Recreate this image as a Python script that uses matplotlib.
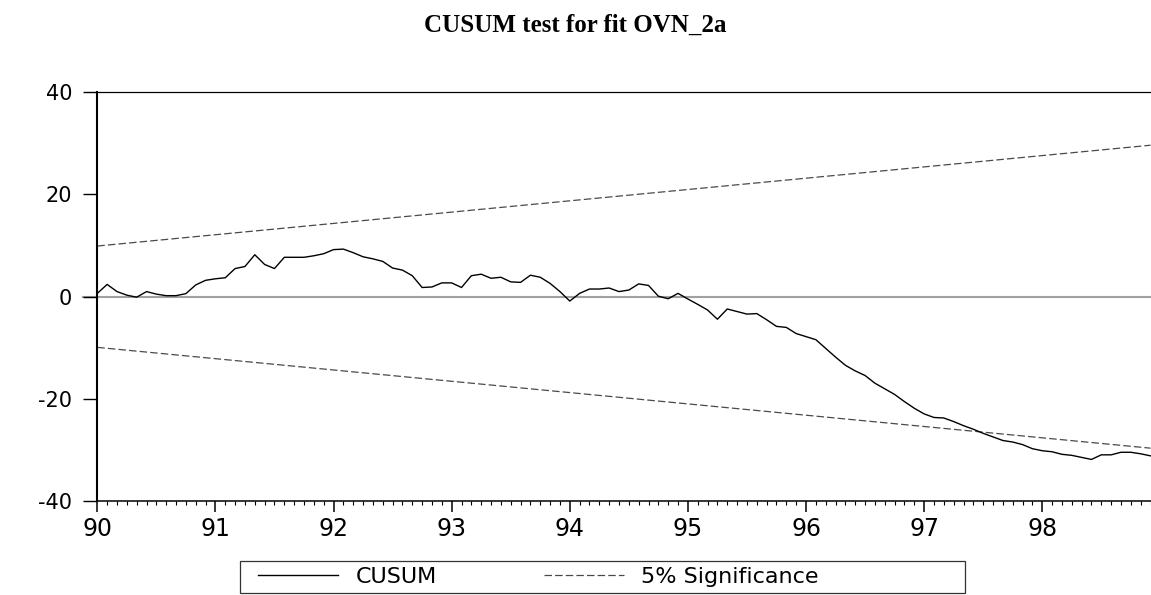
import numpy as np
import matplotlib
matplotlib.use('Agg')
import matplotlib.pyplot as plt
from matplotlib.ticker import MultipleLocator
from matplotlib.patches import Rectangle

plt.rcParams['font.family'] = ['DejaVu Sans']
plt.rcParams['axes.unicode_minus'] = False

# monthly CUSUM, 1990:01 .. 1998:12
cusum = [0.65, 2.4, 1.0, 0.3, -0.1, 1.0, 0.5, 0.2, 0.2, 0.6, 2.3, 3.2,
         3.5, 3.7, 5.5, 5.9, 8.2, 6.3, 5.5, 7.7, 7.7, 7.7, 8.0, 8.4,
         9.2, 9.3, 8.6, 7.8, 7.4, 6.9, 5.6, 5.2, 4.1, 1.8, 1.9, 2.7,
         2.7, 1.8, 4.1, 4.4, 3.6, 3.8, 2.9, 2.8, 4.2, 3.8, 2.6, 1.0,
         -0.85, 0.65, 1.5, 1.5, 1.7, 1.0, 1.3, 2.5, 2.2, 0.1, -0.4, 0.65,
         -0.45, -1.5, -2.6, -4.4, -2.4, -2.9, -3.4, -3.3, -4.5, -5.8, -6.0, -7.2,
         -7.8, -8.4, -10.1, -11.8, -13.4, -14.5, -15.4, -16.9, -18.0, -19.1, -20.5, -21.8,
         -22.9, -23.6, -23.7, -24.4, -25.2, -25.9, -26.7, -27.4, -28.1, -28.4, -28.9, -29.7,
         -30.1, -30.3, -30.8, -31.0, -31.4, -31.8, -30.9, -30.9, -30.4, -30.4, -30.7, -31.1]
upper_5pct = [9.9, 29.6]   # first and last month
lower_5pct = [-9.9, -29.6]

year_ticks = [90, 91, 92, 93, 94, 95, 96, 97, 98]
year_labels = ['90', '91', '92', '93', '94', '95', '96', '97', '98']
y_ticks = [-40, -20, 0, 20, 40]
y_labels = ['-40', '-20', '0', '20', '40']

t = 90 + np.arange(len(cusum)) / 12.0
bx = [t[0], t[-1]]

W, H = 1151, 595
fig = plt.figure(figsize=(W / 100, H / 100), dpi=100)
ax = fig.add_axes([97.3 / W, 1 - 501.4 / H, 1 - 97.3 / W, (501.4 - 92) / H])

ax.axhline(0, xmin=-14 / 1053.7, xmax=1, color='#a0a0a0', lw=1.5,
           clip_on=False, zorder=1)
l1, = ax.plot(t, cusum, color='black', lw=1.0, label='CUSUM', zorder=3)
l2, = ax.plot(bx, upper_5pct, color='#4a4a4a', lw=0.9, dashes=(6, 2.5),
              label='5% Significance', zorder=2)
ax.plot(bx, lower_5pct, color='#4a4a4a', lw=0.9, dashes=(6, 2.5), zorder=2)

ax.set_xlim(90, t[-1] + 0.004)
ax.set_ylim(-40, 40)

ax.set_xticks(year_ticks)
ax.set_xticklabels(year_labels, fontsize=17)
ax.xaxis.set_minor_locator(MultipleLocator(1 / 12))
ax.set_yticks(y_ticks)
ax.set_yticklabels(y_labels, fontsize=15)
ax.tick_params(axis='x', which='major', direction='out', length=8, width=1.1, pad=3)
ax.tick_params(axis='x', which='minor', direction='out', length=3, width=0.8)
ax.tick_params(axis='y', which='major', direction='out', length=10, width=1.0, pad=8)

ax.spines['right'].set_visible(False)
ax.spines['left'].set_linewidth(1.5)
ax.spines['bottom'].set_linewidth(1.1)
ax.spines['top'].set_linewidth(0.9)

fig.text(0.5, 1 - 25 / H, 'CUSUM test for fit OVN_2a', ha='center', va='center',
         fontsize=18, fontweight='bold', family=['Liberation Serif', 'DejaVu Serif'])

# legend box like the original (text runs past the frame)
fig.patches.append(Rectangle((240 / W, 1 - 593 / H), 725 / W, 32 / H,
                             transform=fig.transFigure, fill=False,
                             edgecolor='#333333', lw=0.9))
fig.legend(handles=[l1, l2], loc='center left', bbox_to_anchor=(258 / W, 1 - 577 / H),
           ncol=2, frameon=False, fontsize=16, handlelength=3.6, handletextpad=0.8,
           columnspacing=4.8, borderpad=0, borderaxespad=0)

plt.savefig('out.png', dpi=100)
